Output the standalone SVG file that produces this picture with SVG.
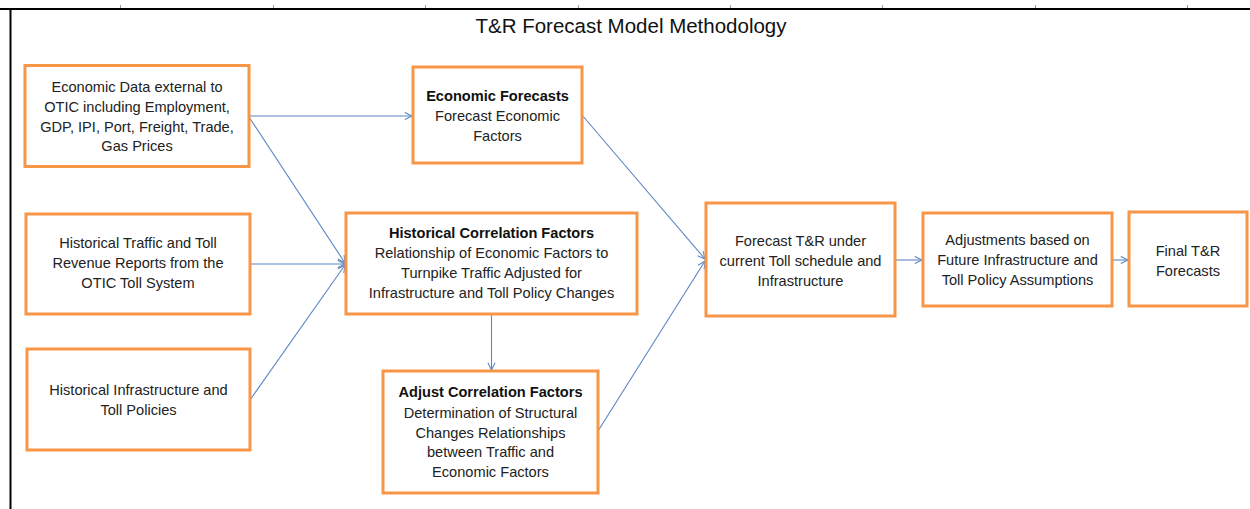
<svg xmlns="http://www.w3.org/2000/svg" width="1250" height="509" viewBox="0 0 1250 509">
<style>
.box{fill:#fff;stroke:#F79646;stroke-width:3}
.t{font-family:"Liberation Sans",Arial,sans-serif;font-size:14.6px;fill:#222;text-anchor:middle}
.b{font-weight:bold;fill:#111}
.title{font-family:"Liberation Sans",Arial,sans-serif;font-size:20.5px;fill:#111;text-anchor:middle}
.c{stroke:#5B86C5;stroke-width:1.1;fill:none}
.frame{stroke:#000;stroke-width:2;fill:none}
.tick{stroke:#999;stroke-width:1}
</style>
<defs>
<marker id="arr" viewBox="0 0 10 10" refX="9" refY="5" markerWidth="9" markerHeight="9" markerUnits="userSpaceOnUse" orient="auto">
<path d="M1,1 L9,5 L1,9" fill="none" stroke="#5B86C5" stroke-width="1.2"/>
</marker>
</defs>
<rect width="1250" height="509" fill="#fff"/>
<g id="frame">
<line class="tick" x1="120.5" y1="5" x2="120.5" y2="9"/>
<line class="tick" x1="273.5" y1="5" x2="273.5" y2="9"/>
<line class="tick" x1="425.5" y1="5" x2="425.5" y2="9"/>
<line class="tick" x1="578.5" y1="5" x2="578.5" y2="9"/>
<line class="tick" x1="730.5" y1="5" x2="730.5" y2="9"/>
<line class="tick" x1="882.5" y1="5" x2="882.5" y2="9"/>
<line class="tick" x1="1035.5" y1="5" x2="1035.5" y2="9"/>
<line class="tick" x1="1187.5" y1="5" x2="1187.5" y2="9"/>
<line class="frame" x1="0" y1="9" x2="1250" y2="9"/>
<line class="frame" x1="10.5" y1="9" x2="10.5" y2="509"/>
</g>
<text class="title" x="631" y="33">T&amp;R Forecast Model Methodology</text>
<g id="connectors">
<line class="c" x1="249" y1="116" x2="412" y2="116" marker-end="url(#arr)"/>
<line class="c" x1="249" y1="117" x2="345" y2="263" marker-end="url(#arr)"/>
<line class="c" x1="250" y1="264" x2="345" y2="264" marker-end="url(#arr)"/>
<line class="c" x1="250" y1="400" x2="345" y2="265" marker-end="url(#arr)"/>
<line class="c" x1="582" y1="115" x2="705" y2="259" marker-end="url(#arr)"/>
<line class="c" x1="598" y1="431" x2="705" y2="261" marker-end="url(#arr)"/>
<line class="c" x1="491.5" y1="315" x2="491.5" y2="370" marker-end="url(#arr)"/>
<line class="c" x1="895" y1="260" x2="922" y2="260" marker-end="url(#arr)"/>
<line class="c" x1="1113" y1="260" x2="1128" y2="260" marker-end="url(#arr)"/>
</g>
<g id="n-econ-data">
<rect class="box" x="25" y="65.5" width="224" height="101"/>
<text class="t" x="137" y="92">Economic Data external to</text>
<text class="t" x="137" y="112">OTIC including Employment,</text>
<text class="t" x="137" y="132">GDP, IPI, Port, Freight, Trade,</text>
<text class="t" x="137" y="151">Gas Prices</text>
</g>
<g id="n-econ-forecasts">
<rect class="box" x="413" y="67" width="169" height="96"/>
<text class="t b" x="497.5" y="101">Economic Forecasts</text>
<text class="t" x="497.5" y="121">Forecast Economic</text>
<text class="t" x="497.5" y="141">Factors</text>
</g>
<g id="n-hist-traffic">
<rect class="box" x="26" y="214" width="224" height="100"/>
<text class="t" x="138" y="248">Historical Traffic and Toll</text>
<text class="t" x="138" y="268">Revenue Reports from the</text>
<text class="t" x="138" y="288">OTIC Toll System</text>
</g>
<g id="n-hist-corr">
<rect class="box" x="346" y="213" width="291" height="101"/>
<text class="t b" x="491.5" y="238">Historical Correlation Factors</text>
<text class="t" x="491.5" y="258">Relationship of Economic Factors to</text>
<text class="t" x="491.5" y="278">Turnpike Traffic Adjusted for</text>
<text class="t" x="491.5" y="298">Infrastructure and Toll Policy Changes</text>
</g>
<g id="n-hist-infra">
<rect class="box" x="27" y="349" width="223" height="101"/>
<text class="t" x="138.5" y="395">Historical Infrastructure and</text>
<text class="t" x="138.5" y="415">Toll Policies</text>
</g>
<g id="n-adjust-corr">
<rect class="box" x="383" y="371" width="215" height="122"/>
<text class="t b" x="490.5" y="397">Adjust Correlation Factors</text>
<text class="t" x="490.5" y="418">Determination of Structural</text>
<text class="t" x="490.5" y="438">Changes Relationships</text>
<text class="t" x="490.5" y="457">between Traffic and</text>
<text class="t" x="490.5" y="477">Economic Factors</text>
</g>
<g id="n-forecast-tr">
<rect class="box" x="706" y="203" width="189" height="113"/>
<text class="t" x="800.5" y="246">Forecast T&amp;R under</text>
<text class="t" x="800.5" y="266">current Toll schedule and</text>
<text class="t" x="800.5" y="285.5">Infrastructure</text>
</g>
<g id="n-adjustments">
<rect class="box" x="923" y="213" width="189" height="93"/>
<text class="t" x="1017.5" y="245">Adjustments based on</text>
<text class="t" x="1017.5" y="265">Future Infrastructure and</text>
<text class="t" x="1017.5" y="285">Toll Policy Assumptions</text>
</g>
<g id="n-final">
<rect class="box" x="1129" y="212" width="118" height="94"/>
<text class="t" x="1188" y="255.5">Final T&amp;R</text>
<text class="t" x="1188" y="275.5">Forecasts</text>
</g>
</svg>
